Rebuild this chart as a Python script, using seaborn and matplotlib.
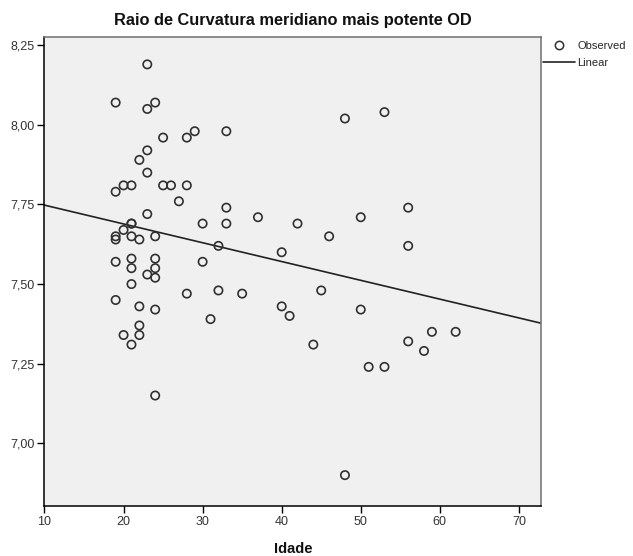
import matplotlib
matplotlib.use("Agg")
import matplotlib.pyplot as plt
import matplotlib.ticker as mticker
from matplotlib.lines import Line2D
import seaborn as sns
import numpy as np
import pandas as pd

idade = [23, 19, 24, 23, 25, 28, 29, 33, 23, 22, 23, 19, 20, 21, 25, 26, 28, 27,
         33, 23, 21, 21, 30, 33, 20, 19, 19, 21, 22, 24, 32, 19, 21, 21, 24, 24,
         23, 24, 30, 21, 19, 28, 32, 35, 22, 24, 31, 22, 20, 22, 21, 24, 37, 42,
         46, 50, 40, 45, 40, 41, 50, 44, 51, 53, 48, 53, 56, 56, 59, 62, 56, 58, 48]
raio = [8.19, 8.07, 8.07, 8.05, 7.96, 7.96, 7.98, 7.98, 7.92, 7.89, 7.85, 7.79,
        7.81, 7.81, 7.81, 7.81, 7.81, 7.76, 7.74, 7.72, 7.69, 7.69, 7.69, 7.69,
        7.67, 7.65, 7.64, 7.65, 7.64, 7.65, 7.62, 7.57, 7.58, 7.55, 7.58, 7.55,
        7.53, 7.52, 7.57, 7.50, 7.45, 7.47, 7.48, 7.47, 7.43, 7.42, 7.39, 7.37,
        7.34, 7.34, 7.31, 7.15, 7.71, 7.69, 7.65, 7.71, 7.60, 7.48, 7.43, 7.40,
        7.42, 7.31, 7.24, 7.24, 8.02, 8.04, 7.74, 7.62, 7.35, 7.35, 7.32, 7.29, 6.90]

x_ticks = [10, 20, 30, 40, 50, 60, 70]
y_ticks = [7.00, 7.25, 7.50, 7.75, 8.00, 8.25]
title = "Raio de Curvatura meridiano mais potente OD"
x_label = "Idade"
legend_labels = ["Observed", "Linear"]

df = pd.DataFrame({"Idade": idade, "Raio": raio})

sns.set_theme(style="ticks")
plt.rcParams["font.family"] = ["Liberation Sans", "DejaVu Sans"]

XLIM = (10, 72.8)
YLIM = (6.803, 8.275)

fig = plt.figure(figsize=(6.33, 5.56), dpi=100)
ax = fig.add_axes([0.0703, 0.0899, 0.7844, 0.8430])
ax.set_facecolor("#F0F0F0")
ax.set_xlim(*XLIM)
ax.set_ylim(*YLIM)

sns.scatterplot(data=df, x="Idade", y="Raio", ax=ax, s=36, marker="o",
                facecolors="none", edgecolor="#303030", linewidth=1.2, zorder=3)
sns.regplot(data=df, x="Idade", y="Raio", ax=ax, scatter=False, ci=None,
            truncate=False, line_kws={"color": "#222222", "linewidth": 1.2})

ax.set_xlim(*XLIM)
ax.set_ylim(*YLIM)
ax.set_xticks(x_ticks)
ax.set_yticks(y_ticks)
ax.yaxis.set_major_formatter(mticker.FuncFormatter(lambda v, p: f"{v:.2f}".replace(".", ",")))
ax.tick_params(axis="both", direction="out", length=5, width=1, color="#000000",
               labelsize=9, labelcolor="#333333", pad=2)

for side in ["left", "bottom"]:
    ax.spines[side].set_color("#000000")
    ax.spines[side].set_linewidth(1.1)
for side in ["top", "right"]:
    ax.spines[side].set_visible(True)
    ax.spines[side].set_color("#6f6f6f")
    ax.spines[side].set_linewidth(1.1)

ax.set_ylabel("")
ax.set_xlabel(x_label, fontsize=10.5, fontweight="bold", labelpad=10, color="#111111")
ax.set_title(title, fontsize=11.8, fontweight="bold", pad=9, color="#111111")

handles = [
    Line2D([], [], marker="o", linestyle="none", markerfacecolor="none",
           markeredgecolor="#303030", markeredgewidth=1.1, markersize=6),
    Line2D([], [], color="#222222", linewidth=1.2),
]
leg = fig.legend(handles, legend_labels, loc="upper left",
                 bbox_to_anchor=(0.858, 0.927), frameon=False, fontsize=8,
                 handlelength=2.9, handletextpad=0.15, labelspacing=0.7,
                 borderaxespad=0, borderpad=0)

fig.savefig("out.png", dpi=100, facecolor="white")
